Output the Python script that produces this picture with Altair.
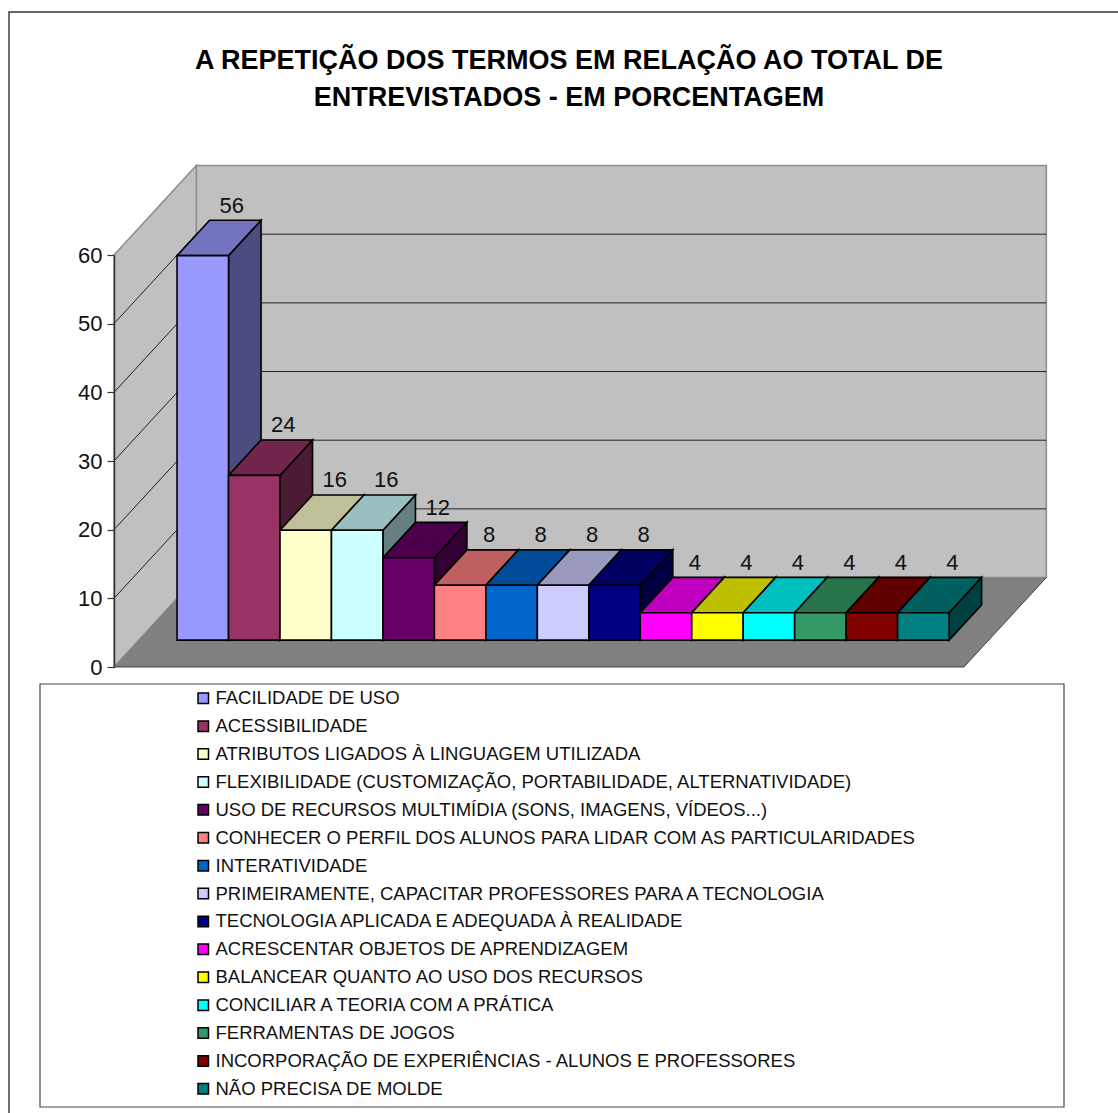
import altair as alt
import pandas as pd

title_lines = ["A REPETIÇÃO DOS TERMOS EM RELAÇÃO AO TOTAL DE",
               "ENTREVISTADOS - EM PORCENTAGEM"]
categories = [
    "FACILIDADE DE USO",
    "ACESSIBILIDADE",
    "ATRIBUTOS LIGADOS À LINGUAGEM UTILIZADA",
    "FLEXIBILIDADE (CUSTOMIZAÇÃO, PORTABILIDADE, ALTERNATIVIDADE)",
    "USO DE RECURSOS MULTIMÍDIA (SONS, IMAGENS, VÍDEOS...)",
    "CONHECER O PERFIL DOS ALUNOS PARA LIDAR COM AS PARTICULARIDADES",
    "INTERATIVIDADE",
    "PRIMEIRAMENTE, CAPACITAR PROFESSORES PARA A TECNOLOGIA",
    "TECNOLOGIA APLICADA E ADEQUADA À REALIDADE",
    "ACRESCENTAR OBJETOS DE APRENDIZAGEM",
    "BALANCEAR QUANTO AO USO DOS RECURSOS",
    "CONCILIAR A TEORIA COM A PRÁTICA",
    "FERRAMENTAS DE JOGOS",
    "INCORPORAÇÃO DE EXPERIÊNCIAS - ALUNOS E PROFESSORES",
    "NÃO PRECISA DE MOLDE",
]
values = [56, 24, 16, 16, 12, 8, 8, 8, 8, 4, 4, 4, 4, 4, 4]
colors = ["#9999FF", "#993366", "#FFFFCC", "#CCFFFF", "#660066",
          "#FF8080", "#0066CC", "#CCCCFF", "#000080", "#FF00FF",
          "#FFFF00", "#00FFFF", "#339966", "#800000", "#008080"]
y_ticks = [0, 10, 20, 30, 40, 50, 60]

FONT = "Liberation Sans"
X_MIN, X_MAX = -0.745, 15.77      # category slots, with the side gaps
Y_MAX = 60
DEPTH_X, DEPTH_Y = 1.6, 13.03     # oblique shift of the full floor depth
BAR_Z0, BAR_Z1 = 0.30, 0.695      # where the bars sit along the depth


def shade(hex_color, factor):
    parts = [int(hex_color[i:i + 2], 16) for i in (1, 3, 5)]
    return "#" + "".join(f"{round(p * factor):02X}" for p in parts)


def px(s, z):
    return s + z * DEPTH_X


def py(v, z):
    return v + z * DEPTH_Y


x_scale = alt.Scale(domain=[X_MIN, X_MAX], nice=False, zero=False)
y_scale = alt.Scale(domain=[0, Y_MAX], nice=False, zero=False)
y_axis = alt.Axis(
    values=y_ticks, title=None, grid=False, tickSize=7, tickColor="#333333",
    tickWidth=1.2, domainColor="#333333", domainWidth=1.5, labelFont=FONT,
    labelFontSize=22, labelColor="#111111", labelPadding=5, zindex=1)


def X(field="x"):
    return alt.X(f"{field}:Q", scale=x_scale, axis=None)


def Y(field="y"):
    return alt.Y(f"{field}:Q", scale=y_scale, axis=y_axis)


# Oblique-projected faces of the bars
fronts, sides, tops, labels = [], [], [], []
for i, (name, val, col) in enumerate(zip(categories, values, colors)):
    fronts.append({"name": name, "x": px(i, BAR_Z0), "x2": px(i + 1, BAR_Z0),
                   "y": py(0, BAR_Z0), "y2": py(val, BAR_Z0)})
    for z in (BAR_Z0, BAR_Z1):
        sides.append({"bar": i, "fill": shade(col, 0.5), "x": px(i + 1, z),
                      "y": py(0, z), "y2": py(val, z)})
        tops.append({"bar": i, "fill": shade(col, 0.75), "x": px(i, z),
                     "x2": px(i + 1, z), "y": py(val, z)})
    labels.append({"x": px(i + 0.5, BAR_Z0), "y": py(val, BAR_Z0), "label": str(val)})

# Box walls and floor
wall_stroke = "#8c8c8c"
back_wall = pd.DataFrame([{"x": px(X_MIN, 1), "x2": px(X_MAX, 1), "y": py(0, 1), "y2": py(Y_MAX, 1)}])
left_wall = pd.DataFrame([
    {"x": px(X_MIN, z), "y": py(0, z), "y2": py(Y_MAX, z)} for z in (0, 1)
])
floor = pd.DataFrame([
    {"x": px(X_MIN, z), "x2": px(X_MAX, z), "y": py(0, z)} for z in (0, 1)
])
floor_edge = pd.DataFrame([
    {"x": px(X_MIN, 0), "y": 0, "order": 0},
    {"x": px(X_MAX, 0), "y": 0, "order": 1},
    {"x": px(X_MAX, 1), "y": py(0, 1), "order": 2},
])

grid_rows = []
for v in y_ticks[1:-1]:
    grid_rows += [
        {"v": v, "order": 0, "x": px(X_MIN, 0), "y": py(v, 0)},
        {"v": v, "order": 1, "x": px(X_MIN, 1), "y": py(v, 1)},
        {"v": v, "order": 2, "x": px(X_MAX, 1), "y": py(v, 1)},
    ]
grid = pd.DataFrame(grid_rows)
single = pd.DataFrame([{"k": 0}])

back_layer = alt.Chart(back_wall).mark_rect(fill="#C0C0C0", stroke=wall_stroke, strokeWidth=1.5).encode(
    x=X(), x2="x2:Q", y=Y(), y2="y2:Q")
left_layer = alt.Chart(left_wall).mark_area(fill="#C0C0C0", stroke=wall_stroke, strokeWidth=1.5, orient="vertical").encode(
    x=X(), y=Y(), y2="y2:Q")
floor_layer = alt.Chart(floor).mark_area(fill="#808080", orient="horizontal").encode(
    x=X(), x2="x2:Q", y=Y())
edge_layer = alt.Chart(floor_edge).mark_line(color="#444444", strokeWidth=1).encode(
    x=X(), y=Y(), order="order:Q")
grid_layer = alt.Chart(grid).mark_line(color="#222222", strokeWidth=1).encode(
    x=X(), y=Y(), detail="v:N", order="order:Q")

side_layer = alt.Chart(pd.DataFrame(sides)).mark_area(stroke="black", strokeWidth=1.6, orient="vertical").encode(
    x=X(), y=Y(), y2="y2:Q", detail="bar:N", fill=alt.Fill("fill:N", scale=None))
top_layer = alt.Chart(pd.DataFrame(tops)).mark_area(stroke="black", strokeWidth=1.6, orient="horizontal").encode(
    x=X(), x2="x2:Q", y=Y(), detail="bar:N", fill=alt.Fill("fill:N", scale=None))
front_layer = alt.Chart(pd.DataFrame(fronts)).mark_rect(stroke="black", strokeWidth=1.6).encode(
    x=X(), x2="x2:Q", y=Y(), y2="y2:Q",
    color=alt.Color("name:N", scale=alt.Scale(domain=categories, range=colors),
                    legend=alt.Legend(
                        title=None, orient="none", legendX=80, legendY=434,
                        symbolType="square", symbolSize=110, symbolStrokeColor="black",
                        symbolStrokeWidth=1.5, labelFont=FONT, labelFontSize=18.5,
                        labelColor="#111111", labelLimit=0, labelOffset=3,
                        rowPadding=8.9, padding=0, values=categories)))
label_layer = alt.Chart(pd.DataFrame(labels)).mark_text(
    font=FONT, fontSize=22, color="#111111", dx=29, dy=-50).encode(
    x=X(), y=Y(), text="label:N")

# Legend box and the outer chart frame
legend_box = alt.Chart(single).mark_rect(fillOpacity=0, stroke="#444444", strokeWidth=1.2).encode(
    x=alt.value(-74), x2=alt.value(950), y=alt.value(429), y2=alt.value(852))
frame = alt.Chart(single).mark_rect(fillOpacity=0, stroke="#333333", strokeWidth=1.4).encode(
    x=alt.value(-105), x2=alt.value(1100), y=alt.value(-243), y2=alt.value(1000))

chart = alt.layer(
    frame, legend_box, back_layer, left_layer, floor_layer, edge_layer, grid_layer,
    side_layer, top_layer, front_layer, label_layer
).properties(
    width=850, height=412,
    title=alt.TitleParams(text=title_lines, font=FONT, fontSize=27, fontWeight="bold",
                          color="black", anchor="middle", dx=30, lineHeight=37,
                          baseline="top", offset=-101),
    autosize=alt.AutoSizeParams(type="none"),
    padding={"left": 114, "top": 255, "right": 154, "bottom": 446},
    background="white",
).configure_view(stroke=None)

chart.save("out.html", embed_options={"renderer": "svg", "actions": False})
